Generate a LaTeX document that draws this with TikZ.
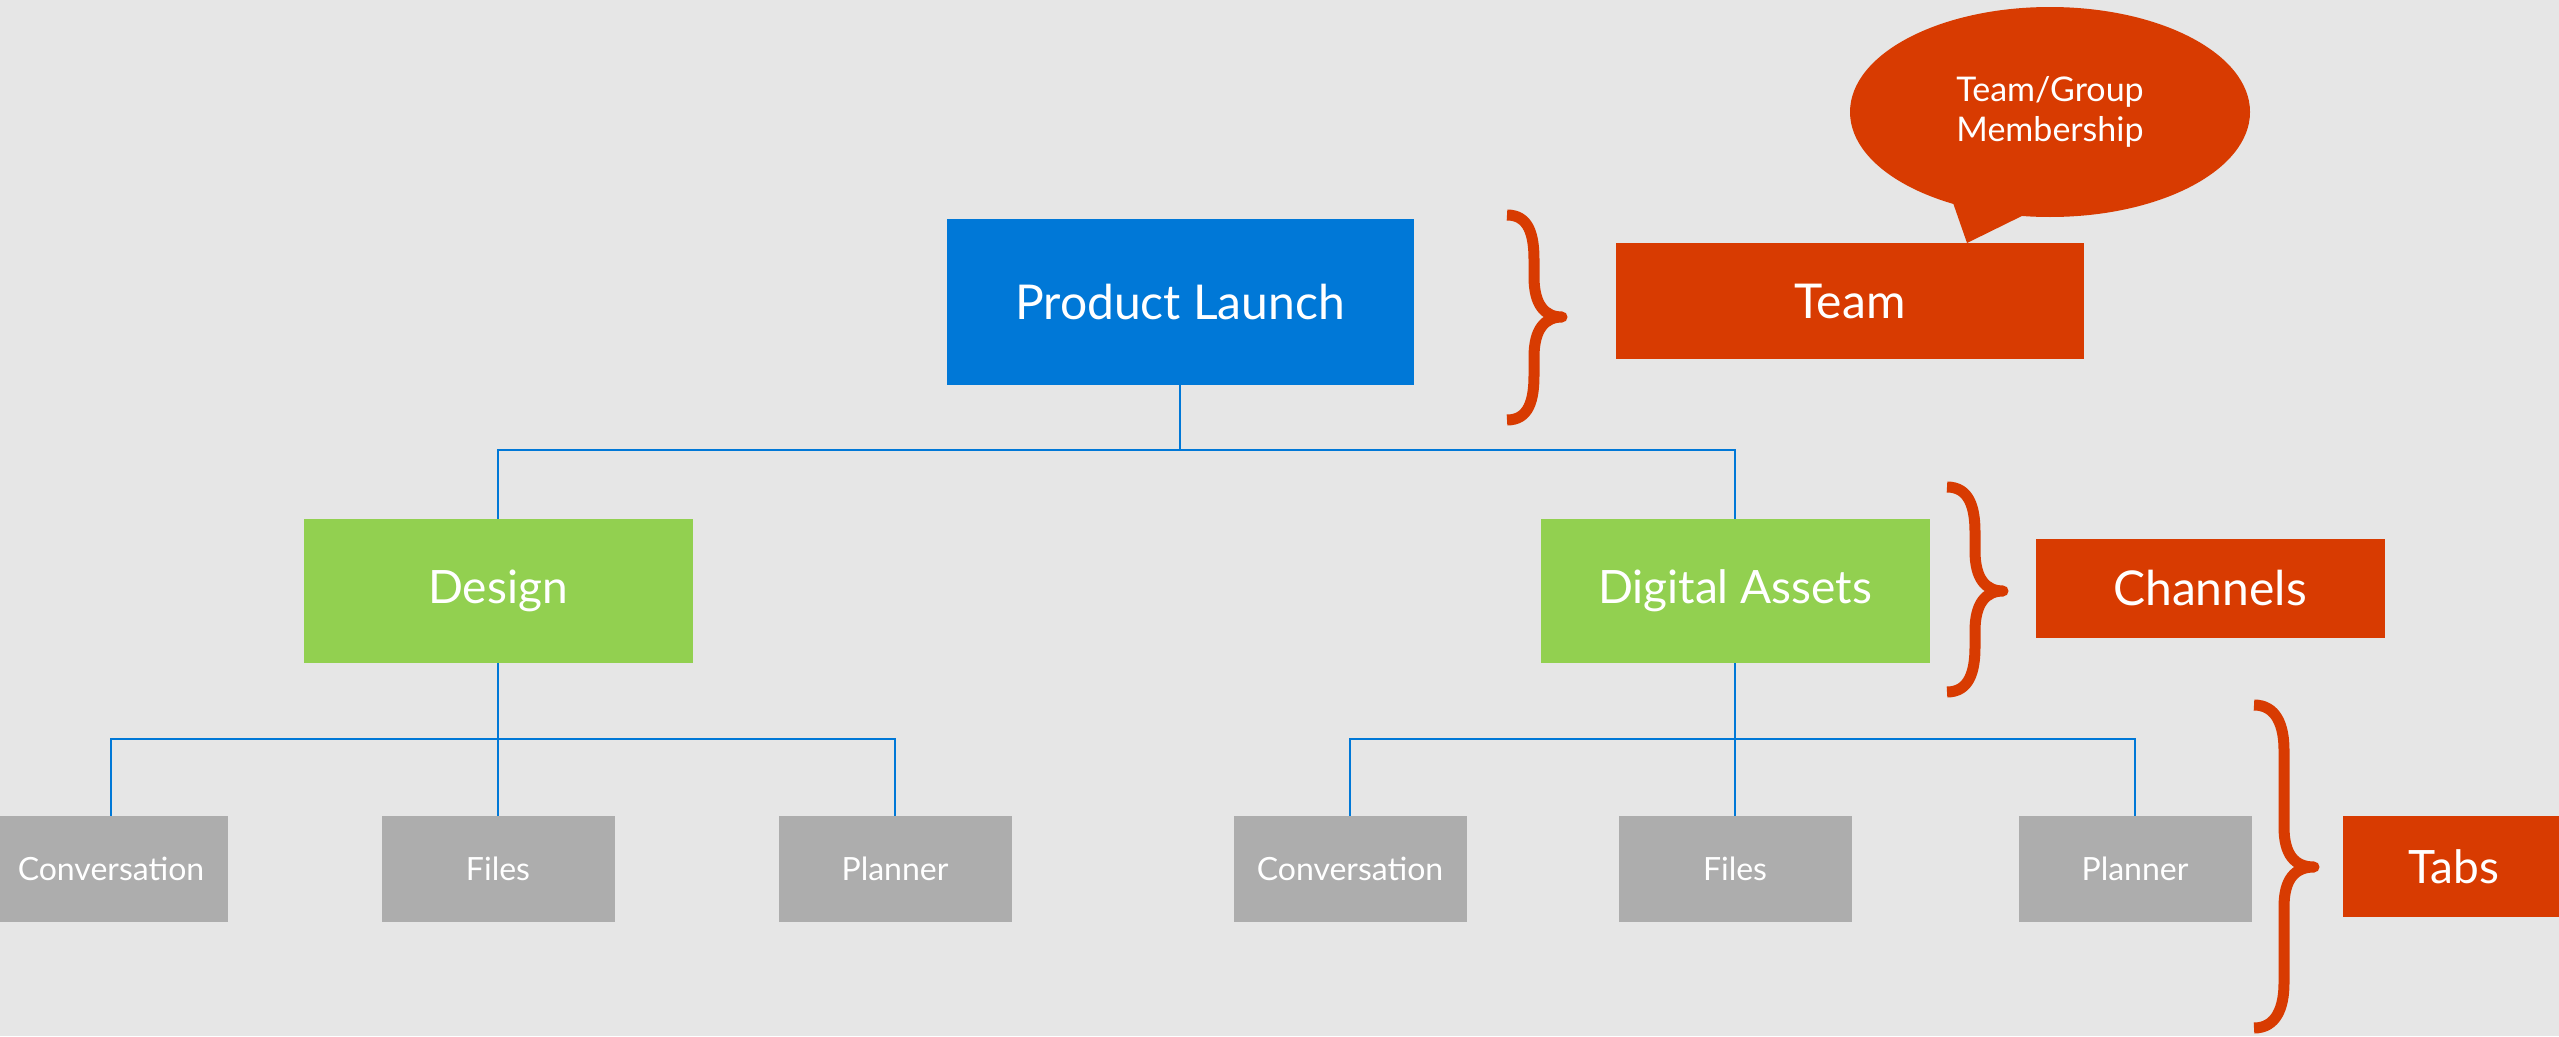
\documentclass[tikz,border=0pt]{standalone}
\usepackage{fontspec}
\setmainfont{Lato}
\usetikzlibrary{shapes.geometric}
\definecolor{bg}{HTML}{E6E6E6}
\definecolor{msblue}{HTML}{0078D7}
\definecolor{msgreen}{HTML}{92D050}
\definecolor{msgray}{HTML}{ADADAD}
\definecolor{msred}{HTML}{D83B01}
\tikzset{
  box/.style={rectangle, inner sep=0pt, text=white, align=center},
  topbox/.style={box, fill=msblue, minimum width=467pt, minimum height=166pt, font=\fontsize{48}{56}\selectfont},
  chanbox/.style={box, fill=msgreen, minimum width=389pt, minimum height=144pt, font=\fontsize{46}{54}\selectfont},
  tabbox/.style={box, fill=msgray, minimum width=233pt, minimum height=106pt, font=\fontsize{32}{38}\selectfont},
  labelbox/.style={box, fill=msred, font=\fontsize{48}{56}\selectfont},
  link/.style={draw=msblue, line width=2pt},
  bracket/.style={draw=msred, line width=11pt, line join=round}
}
\begin{document}
\begin{tikzpicture}[x=1pt, y=-1pt]
\useasboundingbox (0,0) rectangle (2559,1036);
\fill[bg] (0,0) rectangle (2559,1036);
\begin{scope}
\clip (0,0) rectangle (2559,1036);
% tree nodes
\node[topbox] (pl) at (1180,302) {Product Launch};
\node[chanbox] (design) at (498,591) {Design};
\node[chanbox] (da) at (1735,591) {Digital Assets};
\node[tabbox] (c1) at (111,869) {Conversation};
\node[tabbox] (f1) at (498,869) {Files};
\node[tabbox] (p1) at (895,869) {Planner};
\node[tabbox] (c2) at (1350,869) {Conversation};
\node[tabbox] (f2) at (1735,869) {Files};
\node[tabbox] (p2) at (2135,869) {Planner};
% connectors
\coordinate (bus0) at (1180,450);
\coordinate (bus1) at (498,739);
\coordinate (bus2) at (1735,739);
\draw[link] (pl.south) -- (bus0);
\draw[link] (bus0) -| (design.north);
\draw[link] (bus0) -| (da.north);
\draw[link] (design.south) -- (bus1);
\draw[link] (bus1) -| (c1.north);
\draw[link] (bus1) -- (f1.north);
\draw[link] (bus1) -| (p1.north);
\draw[link] (da.south) -- (bus2);
\draw[link] (bus2) -| (c2.north);
\draw[link] (bus2) -- (f2.north);
\draw[link] (bus2) -| (p2.north);
% labels
\node[labelbox, minimum width=468pt, minimum height=116pt] (team) at (1850,301) {Team};
\node[labelbox, minimum width=349pt, minimum height=99pt] (chan) at (2210,588.5) {Channels};
\node[labelbox, minimum width=222pt, minimum height=101pt, font=\fontsize{46}{54}\selectfont] (tabs) at (2454,866.5) {Tabs};
% callout
\fill[msred] (1952,200) -- (1967,243) -- (2030,212) -- cycle;
\node[ellipse, fill=msred, inner sep=0pt, minimum width=400pt, minimum height=210pt, text=white, align=center, font=\fontsize{34}{40}\selectfont] (callout) at (2050,112) {Team/Group\\Membership};
% braces
\draw[bracket] (1507,215) .. controls (1529,215) and (1534,235) .. (1534,260) -- (1534,277) .. controls (1534,305) and (1545,317) .. (1562,317) .. controls (1545,317) and (1534,329) .. (1534,357) -- (1534,375) .. controls (1534,400) and (1529,420) .. (1507,420);
\draw[bracket] (1947,487) .. controls (1969,487) and (1975,507) .. (1975,532) -- (1975,551) .. controls (1975,579) and (1986,591) .. (2003,591) .. controls (1986,591) and (1975,603) .. (1975,631) -- (1975,647) .. controls (1975,672) and (1969,692) .. (1947,692);
\draw[bracket] (2254,705) .. controls (2276,705) and (2284,725) .. (2284,750) -- (2284,827) .. controls (2284,855) and (2295,867) .. (2314,867) .. controls (2295,867) and (2284,879) .. (2284,907) -- (2284,983) .. controls (2284,1008) and (2276,1028) .. (2254,1028);
\end{scope}
\end{tikzpicture}
\end{document}
